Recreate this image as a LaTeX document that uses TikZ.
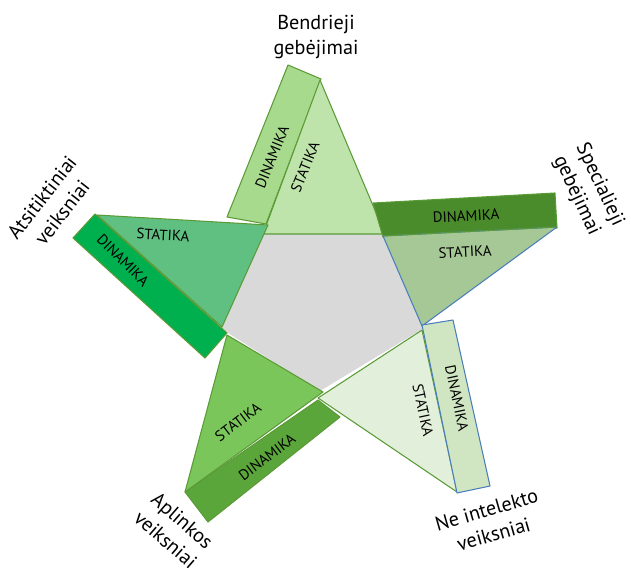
\documentclass[tikz,border=0pt]{standalone}
\usepackage{fontspec}
\setmainfont{PT Sans}
\usetikzlibrary{arrows,shapes}
\definecolor{pentagray}{HTML}{D9D9D9}
\definecolor{edgegreen}{HTML}{5B9B37}
\definecolor{edgeblue}{HTML}{4A7EBB}
\definecolor{topband}{HTML}{A8DA8E}
\definecolor{toptri}{HTML}{BEE3AB}
\definecolor{rightband}{HTML}{4A8C2B}
\definecolor{righttri}{HTML}{A6C796}
\definecolor{leftband}{HTML}{00AF4E}
\definecolor{lefttri}{HTML}{5FC082}
\definecolor{lowband}{HTML}{5BA63B}
\definecolor{lowtri}{HTML}{7AC65A}
\definecolor{neband}{HTML}{D0E6C3}
\definecolor{netri}{HTML}{E2EFDA}

\begin{document}
\begin{tikzpicture}[x=0.02cm,y=-0.02cm]
  \tikzstyle{piece}=[draw=edgegreen,line width=0.6pt,line join=round]
  \tikzstyle{blue piece}=[piece,draw=edgeblue]
  \tikzstyle{inner}=[font=\fontsize{8.5}{9}\selectfont,inner sep=0pt]
  \tikzstyle{outer}=[font=\fontsize{11.5}{14.5}\selectfont,align=center,inner sep=0pt]
  \useasboundingbox (0,0) rectangle (631,567);
  % centre
  \fill[pentagray] (264,233) -- (385,233) -- (424,328) -- (320,391) -- (220,328) -- cycle;
  % Bendrieji
  \filldraw[piece,fill=topband] (288,65) -- (321,79) -- (266,224) -- (227,217) -- cycle;
  \filldraw[piece,fill=toptri] (320,80) -- (385,234) -- (263,234) -- cycle;
  % Specialieji
  \filldraw[piece,fill=rightband] (373,203) -- (555,193) -- (557,228) -- (383,237) -- cycle;
  \filldraw[blue piece,fill=righttri] (383,236) -- (557,227) -- (422,326) -- cycle;
  \draw[piece] (383,236) -- (557,227);
  % Aplinkos
  \filldraw[piece,fill=lowband] (185,492) -- (318,400) -- (340,417) -- (208,522) -- cycle;
  \filldraw[piece,fill=lowtri] (227,335) -- (323,392) -- (185,492) -- cycle;
  % Atsitiktiniai
  \filldraw[piece,fill=leftband] (95,214) -- (227,333) -- (205,358) -- (73,238) -- cycle;
  \filldraw[piece,fill=lefttri] (97,215) -- (268,225) -- (222,327) -- cycle;
  % Ne intelekto
  \filldraw[piece,fill=netri] (318,398) -- (422,330) -- (457,492) -- cycle;
  \filldraw[blue piece,fill=neband] (422,325) -- (453,320) -- (490,486) -- (457,493) -- cycle;

  \node[inner,rotate=68] (topdin) at (272,157) {DINAMIKA};
  \node[inner,rotate=68] (topstat) at (305,167) {STATIKA};
  \node[inner,rotate=3] (rightdin) at (466,216) {DINAMIKA};
  \node[inner,rotate=3] (rightstat) at (465,252) {STATIKA};
  \node[inner,rotate=-3] (leftstat) at (163,235) {STATIKA};
  \node[inner,rotate=-45] (leftdin) at (123,260) {DINAMIKA};
  \node[inner,rotate=37] (lowstat) at (238,422) {STATIKA};
  \node[inner,rotate=37] (lowdin) at (267,457) {DINAMIKA};
  \node[inner,rotate=-78] (nestat) at (423,410) {STATIKA};
  \node[inner,rotate=-78] (nedin) at (457,398) {DINAMIKA};

  \node[outer] (bendr) at (316,37) {Bendrieji\\gebėjimai};
  \node[outer,rotate=-65] (spec) at (588,190) {Specialieji\\gebėjimai};
  \node[outer,rotate=52] (atsit) at (52,205) {Atsitiktiniai\\veiksniai};
  \node[outer,rotate=-41] (aplink) at (174,530) {Aplinkos\\veiksniai};
  \node[outer,rotate=16] (neint) at (490,522) {Ne intelekto\\veiksniai};
\end{tikzpicture}
\end{document}
